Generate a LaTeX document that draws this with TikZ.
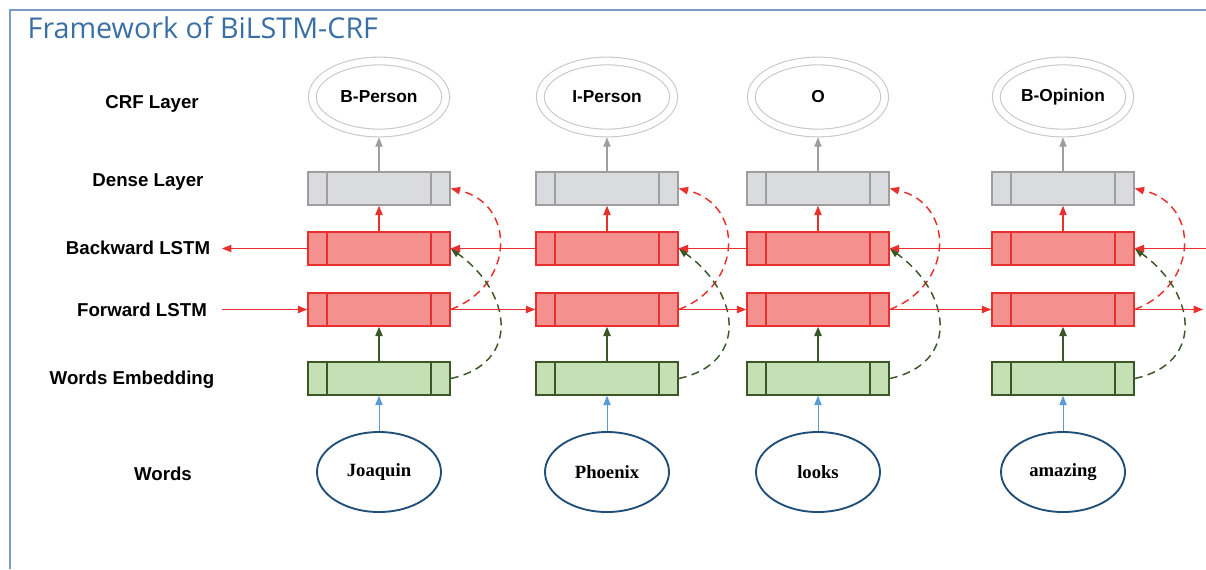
\documentclass[tikz,border=0pt]{standalone}
\usepackage{fontspec}
\setmainfont{Liberation Sans}
\newfontfamily\titlefont{Open Sans}
\newfontfamily\wordfont{Liberation Serif}
\usetikzlibrary{arrows.meta, shapes.geometric}

\definecolor{frameblue}{HTML}{7A9CC6}
\definecolor{titleblue}{HTML}{3A6FA5}
\definecolor{lstmfill}{HTML}{F4908E}
\definecolor{lstmdraw}{HTML}{E8302E}
\definecolor{embfill}{HTML}{C5E0B4}
\definecolor{embdraw}{HTML}{3B5728}
\definecolor{densefill}{HTML}{DADBDE}
\definecolor{densedraw}{HTML}{9E9E9E}
\definecolor{crfdraw}{HTML}{C8C8C8}
\definecolor{wordblue}{HTML}{1F4E79}
\definecolor{arrowblue}{HTML}{5B9BD5}

\tikzset{
    layer/.style={font=\bfseries\fontsize{14}{16}\selectfont},
    cell/.style={rectangle, minimum width=106.5pt, minimum height=24.75pt, line width=1.1pt, inner sep=0pt},
    densecell/.style={cell, fill=densefill, draw=densedraw},
    lstmcell/.style={cell, fill=lstmfill, draw=lstmdraw},
    embcell/.style={cell, fill=embfill, draw=embdraw},
    crfnode/.style={ellipse, draw=crfdraw, line width=0.8pt, double=white, double distance=5pt,
        minimum width=100pt, minimum height=54pt, outer sep=3.3pt, font=\bfseries\fontsize{13}{15}\selectfont},
    wordnode/.style={ellipse, draw=wordblue, line width=1.4pt, fill=white,
        minimum width=93pt, minimum height=60pt, font=\wordfont\bfseries\fontsize{14}{16}\selectfont},
    tip/.style={-{Triangle[length=7pt,width=5.5pt]}},
    redline/.style={lstmdraw, line width=0.8pt, tip},
    reddash/.style={lstmdraw, line width=1.1pt, dash pattern=on 6pt off 4pt, tip},
    greendash/.style={embdraw, line width=1.1pt, dash pattern=on 6pt off 4pt, tip},
}

\begin{document}
\begin{tikzpicture}[x=0.75pt, y=-0.75pt]
    \useasboundingbox (0,0) rectangle (1206,569);

    % frame and title
    \draw[frameblue, line width=1.5pt] (10,569) -- (10,10) -- (1206,10);
    \node[anchor=west, text=titleblue, font=\titlefont\fontsize{21.5}{24}\selectfont] (title) at (23,28) {Framework of BiLSTM-CRF};

    % layer names
    \node[layer] (lcrf) at (152,104) {CRF Layer};
    \node[layer] (ldense) at (148,182) {Dense Layer};
    \node[layer] (lbw) at (138,248) {Backward LSTM};
    \node[layer] (lfw) at (142,310) {Forward LSTM};
    \node[layer] (lemb) at (132,380) {Words Embedding};
    \node[layer] (lword) at (163,474) {Words};

    % one column per word
    \foreach \i/\x/\w/\t in {1/379/Joaquin/B-Person, 2/607/Phoenix/I-Person, 3/818/looks/O, 4/1063/amazing/B-Opinion} {
        \node[crfnode] (crf\i) at (\x,97) {\t};
        \node[densecell] (dense\i) at (\x,188.5) {};
        \node[lstmcell] (bw\i) at (\x,248.5) {};
        \node[lstmcell] (fw\i) at (\x,309.5) {};
        \node[embcell] (emb\i) at (\x,378.5) {};
        \node[wordnode] (word\i) at (\x,472) {\w};
        \foreach \k/\c in {dense/densedraw, bw/lstmdraw, fw/lstmdraw, emb/embdraw}
            \draw[\c, line width=1.3pt] ([xshift=15pt]\k\i.north west) -- ([xshift=15pt]\k\i.south west)
                ([xshift=-15pt]\k\i.north east) -- ([xshift=-15pt]\k\i.south east);
        \draw[tip, arrowblue, line width=0.7pt] (word\i) -- (emb\i);
        \draw[tip, embdraw, line width=1.1pt] (emb\i) -- (fw\i);
        \draw[redline] (bw\i) -- (dense\i);
        \draw[tip, densedraw, line width=0.8pt] (dense\i) -- (crf\i);
        \draw[reddash] (fw\i.east) .. controls +(65,-25) and +(65,15) .. (dense\i.east);
        \draw[greendash] (emb\i.east) .. controls +(70,-15) and +(62,45) .. (bw\i.east);
    }

    % sequence links
    \coordinate (bwin) at (1206,248.5);
    \coordinate (bwout) at (222,248.5);
    \coordinate (fwin) at (222,309.5);
    \coordinate (fwout) at (1203,309.5);
    \draw[redline] (bwin) -- (bw4.east);
    \foreach \a/\b in {4/3, 3/2, 2/1}
        \draw[redline] (bw\a) -- (bw\b);
    \draw[redline] (bw1.west) -- (bwout);
    \draw[redline] (fwin) -- (fw1.west);
    \foreach \a/\b in {1/2, 2/3, 3/4}
        \draw[redline] (fw\a) -- (fw\b);
    \draw[redline] (fw4.east) -- (fwout);
\end{tikzpicture}
\end{document}
